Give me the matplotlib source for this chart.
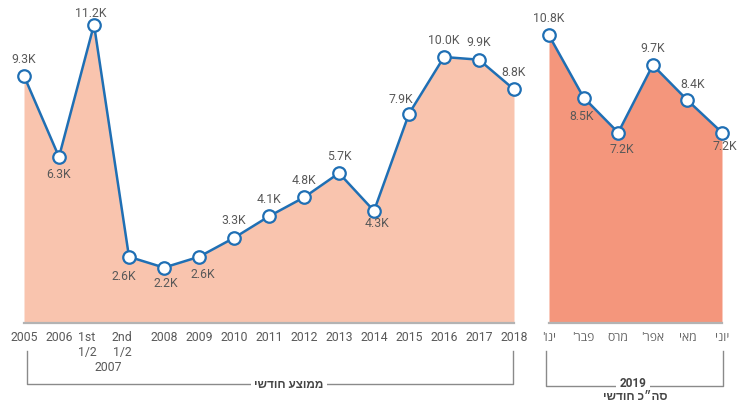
import matplotlib
matplotlib.use("Agg")
import matplotlib.pyplot as plt
from matplotlib.transforms import blended_transform_factory

# ---- data ----
years = ["2005", "2006", "1st\n1/2", "2nd\n1/2", "2008", "2009", "2010", "2011",
         "2012", "2013", "2014", "2015", "2016", "2017", "2018"]
avg_values = [9.3, 6.3, 11.2, 2.6, 2.2, 2.6, 3.3, 4.1, 4.8, 5.7, 4.3, 7.9, 10.0, 9.9, 8.8]
months = ["ינו'", "פבר'", "מרס", "אפר'", "מאי", "יוני"]
month_values = [10.8, 8.5, 7.2, 9.7, 8.4, 7.2]
left_title = "ממוצע חודשי"
right_year = "2019"
right_title = "סה״כ חודשי"
half_year = "2007"

# label offsets in pixels (dx, dy) – layout only
avg_offsets = [(0, 17), (0, -17), (-3, 12), (-5, -19), (2, -15), (4, -17), (0, 18),
               (0, 18), (0, 18), (0, 18), (3, -12), (-8, 15), (0, 17), (0, 18), (0, 18)]
month_offsets = [(0, 18), (-2, -18), (4, -16), (0, 18), (5, 17), (3, -13)]


def vis(s):
    """Visual (left-to-right) order for Hebrew text."""
    return s[::-1]


W, H = 749, 406
fig = plt.figure(figsize=(W / 100, H / 100), dpi=100)

LINE = "#1f6fb4"
TXT = "#595959"
FONT = ["Roboto", "DejaVu Sans"]
HFONT = ["Open Sans", "Liberation Sans", "DejaVu Sans"]

ybot_px = 324
y0 = (328 - ybot_px) / 27.0
y1 = 328 / 27.0

axL = fig.add_axes([0, (H - ybot_px) / H, 530 / W, ybot_px / H])
axR = fig.add_axes([535 / W, (H - ybot_px) / H, 214 / W, ybot_px / H])
axL.set_xlim((0 - 24) / 35.0, (530 - 24) / 35.0)
axR.set_xlim((535 - 549) / 34.6, (749 - 549) / 34.6)


def draw(ax, vals, fillc, offsets):
    x = list(range(len(vals)))
    ax.set_ylim(y0, y1)
    ax.fill_between(x, 0, vals, color=fillc, lw=0, zorder=1)
    ax.plot([x[0], x[-1]], [y0, y0], color="#b3b3b3", lw=1.6, clip_on=False, zorder=2)
    ax.plot(x, vals, color=LINE, lw=1.8, marker="o", ms=9, mfc="white",
            mec=LINE, mew=1.6, zorder=3, clip_on=False)
    for xi, v, (dx, dy) in zip(x, vals, offsets):
        ax.annotate(f"{v:.1f}K", (xi, v), xytext=(dx, dy), textcoords="offset pixels",
                    ha="center", va="center", fontsize=8.8, color=TXT, family=FONT,
                    zorder=4, annotation_clip=False)
    for s in ax.spines.values():
        s.set_visible(False)
    ax.set_yticks([])
    ax.tick_params(axis="x", length=0, pad=5, labelcolor=TXT)


draw(axL, avg_values, "#f9c4ae", avg_offsets)
draw(axR, month_values, "#f4967c", month_offsets)

# x tick labels
axL.set_xticks(range(len(years)))
axL.set_xticklabels([y if "\n" not in y else "" for y in years], family=FONT, fontsize=8.8)
for i, y in enumerate(years):
    if "\n" in y:
        axL.annotate(y, (i, y0), xytext=(-7, -7), textcoords="offset pixels",
                     ha="center", va="top", fontsize=8.8, color=TXT, family=FONT,
                     linespacing=1.25, annotation_clip=False)
axL.annotate(half_year, (2.5, y0), xytext=(-3.5, -37), textcoords="offset pixels",
             ha="center", va="top", fontsize=8.8, color=TXT, family=FONT,
             annotation_clip=False)

axR.set_xticks(range(len(months)))
axR.set_xticklabels([vis(m) for m in months], family=HFONT, fontsize=8.8)
for lab in axR.get_xticklabels():
    lab.set_color("#666666")

# brackets
BR = "#8a8a8a"


def fy(px):
    return 1 - px / H


def bracket(ax, xa, xb, ytop, ybot):
    tr = blended_transform_factory(ax.transData, fig.transFigure)
    ax.plot([xa, xa, xb, xb], [fy(ytop), fy(ybot), fy(ybot), fy(ytop)],
            transform=tr, color=BR, lw=1.0, clip_on=False, zorder=1)
    return tr


trL = bracket(axL, (27 - 24) / 35.0, (513 - 24) / 35.0, 352, 385)
axL.text((289 - 24) / 35.0, fy(385), vis(left_title), transform=trL, ha="center",
         va="center", fontsize=8.5, fontweight="bold", color="#444444", family=HFONT,
         bbox=dict(facecolor="white", edgecolor="none", pad=2.5), zorder=3, clip_on=False)

trR = bracket(axR, (546 - 549) / 34.6, (723 - 549) / 34.6, 352, 387)
axR.text((633 - 549) / 34.6, fy(384), right_year, transform=trR, ha="center",
         va="center", fontsize=8.5, fontweight="bold", color="#444444", family=FONT,
         bbox=dict(facecolor="white", edgecolor="none", pad=2.5), zorder=3, clip_on=False)
axR.text((635 - 549) / 34.6, fy(396.5), vis(right_title), transform=trR, ha="center",
         va="center", fontsize=8.5, fontweight="bold", color="#444444", family=HFONT,
         zorder=3, clip_on=False)

fig.savefig("out.png", dpi=100)
